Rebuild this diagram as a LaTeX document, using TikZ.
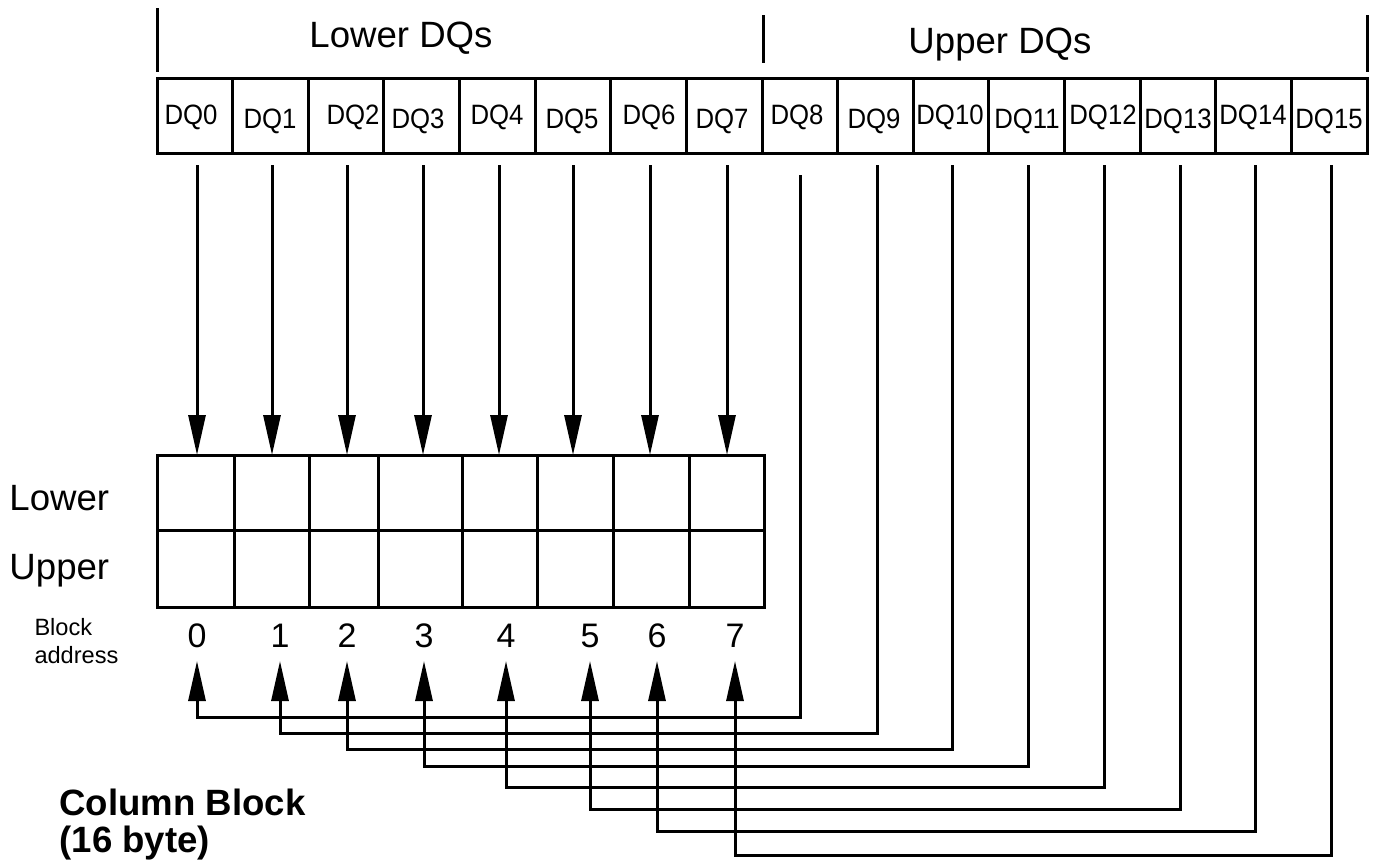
\documentclass[tikz,border=0pt]{standalone}
\usepackage{fontspec}
\setmainfont{Liberation Sans}
\usetikzlibrary{arrows.meta}
\newcommand{\dqtext}[1]{\scalebox{0.92}[1]{#1}}
\begin{document}
\begin{tikzpicture}[x=0.5pt,y=-0.5pt,line width=1.5pt,
  dqbox/.style={draw,minimum width=37.8125pt,minimum height=37.5pt,inner sep=0pt,outer sep=0pt},
  gbox/.style={draw,inner sep=0pt,outer sep=0pt},
  lbl/.style={inner sep=0pt,anchor=base},
  lbw/.style={inner sep=0pt,anchor=base west},
  big/.style={font=\fontsize{18.3}{22}\selectfont},
  dqf/.style={font=\fontsize{14}{17}\selectfont},
  numf/.style={font=\fontsize{17}{20}\selectfont},
  smallf/.style={font=\fontsize{11.8}{14}\selectfont},
  boldf/.style={font=\bfseries\fontsize{18.3}{22}\selectfont},
  arr/.style={-{Triangle[length=20pt,width=8.5pt]}},
]
\useasboundingbox (0,0) rectangle (1382,863);
% header ticks
\draw (157,8) -- (157,72);
\draw (763,15) -- (763,63);
\draw (1367,15) -- (1367,72);
\node[lbl,big] (lowdq) at (401,47) {Lower DQs};
\node[lbl,big] (updq) at (1000,53) {Upper DQs};
% DQ row
\foreach \i in {0,...,15} \node[dqbox] (dq\i) at ({157+75.625*(\i+0.5)},115.5) {};
\foreach \i/\x/\y in {0/191/124,1/270/128,2/353/124,3/418/128,4/497/124,5/572/128,6/649/124,7/722/128,
  8/797/124,9/874/128,10/950/124,11/1027/128,12/1103/124,13/1178/128,14/1253/124,15/1329/128}
  \node[lbl,dqf] (dql\i) at (\x,\y) {\dqtext{DQ\i}};
% grid
\foreach \l/\r [count=\i from 0] in {157/234,234/309,309/378,378/462,462/537,537/613,613/689,689/764} {
  \node[gbox,minimum width={(\r-\l)*0.5pt},minimum height=37.5pt] (lo\i) at ({(\l+\r)/2},492.5) {};
  \node[gbox,minimum width={(\r-\l)*0.5pt},minimum height=38.5pt] (up\i) at ({(\l+\r)/2},568.5) {};
}
\node[lbw,big] (lowlbl) at (8,510) {Lower};
\node[lbw,big] (uplbl) at (8,579) {Upper};
\node[lbw,smallf] (blk) at (33,635) {Block};
\node[lbw,smallf] (addr) at (33,663) {address};
% down arrows
\foreach \i/\x in {0/197,1/272,2/347,3/423,4/499,5/573,6/650,7/727} {
  \coordinate (ds\i) at (\x,165);
  \draw[arr] (ds\i) -- (ds\i |- lo\i.north);
}
% routed upper DQs
\foreach \i/\xu/\ys/\yr/\xa in {0/800/175/717/197,1/877/165/733/280,2/952/165/749/347,3/1028/165/766/424,
  4/1104/165/787/506,5/1180/165/809/590,6/1255/165/831/657,7/1331/165/855/735} {
  \node[lbl,numf] (n\i) at (\xa,647) {\i};
  \coordinate (us\i) at (\xu,\ys);
  \coordinate (ur\i) at (\xa,\yr);
  \coordinate (ut\i) at (\xa,661);
  \draw[arr] (us\i) |- (ur\i) -- (ut\i);
}
\node[lbw,boldf] (cb1) at (58,815) {Column Block};
\node[lbw,boldf] (cb2) at (58,852) {(16 byte)};
\end{tikzpicture}
\end{document}
